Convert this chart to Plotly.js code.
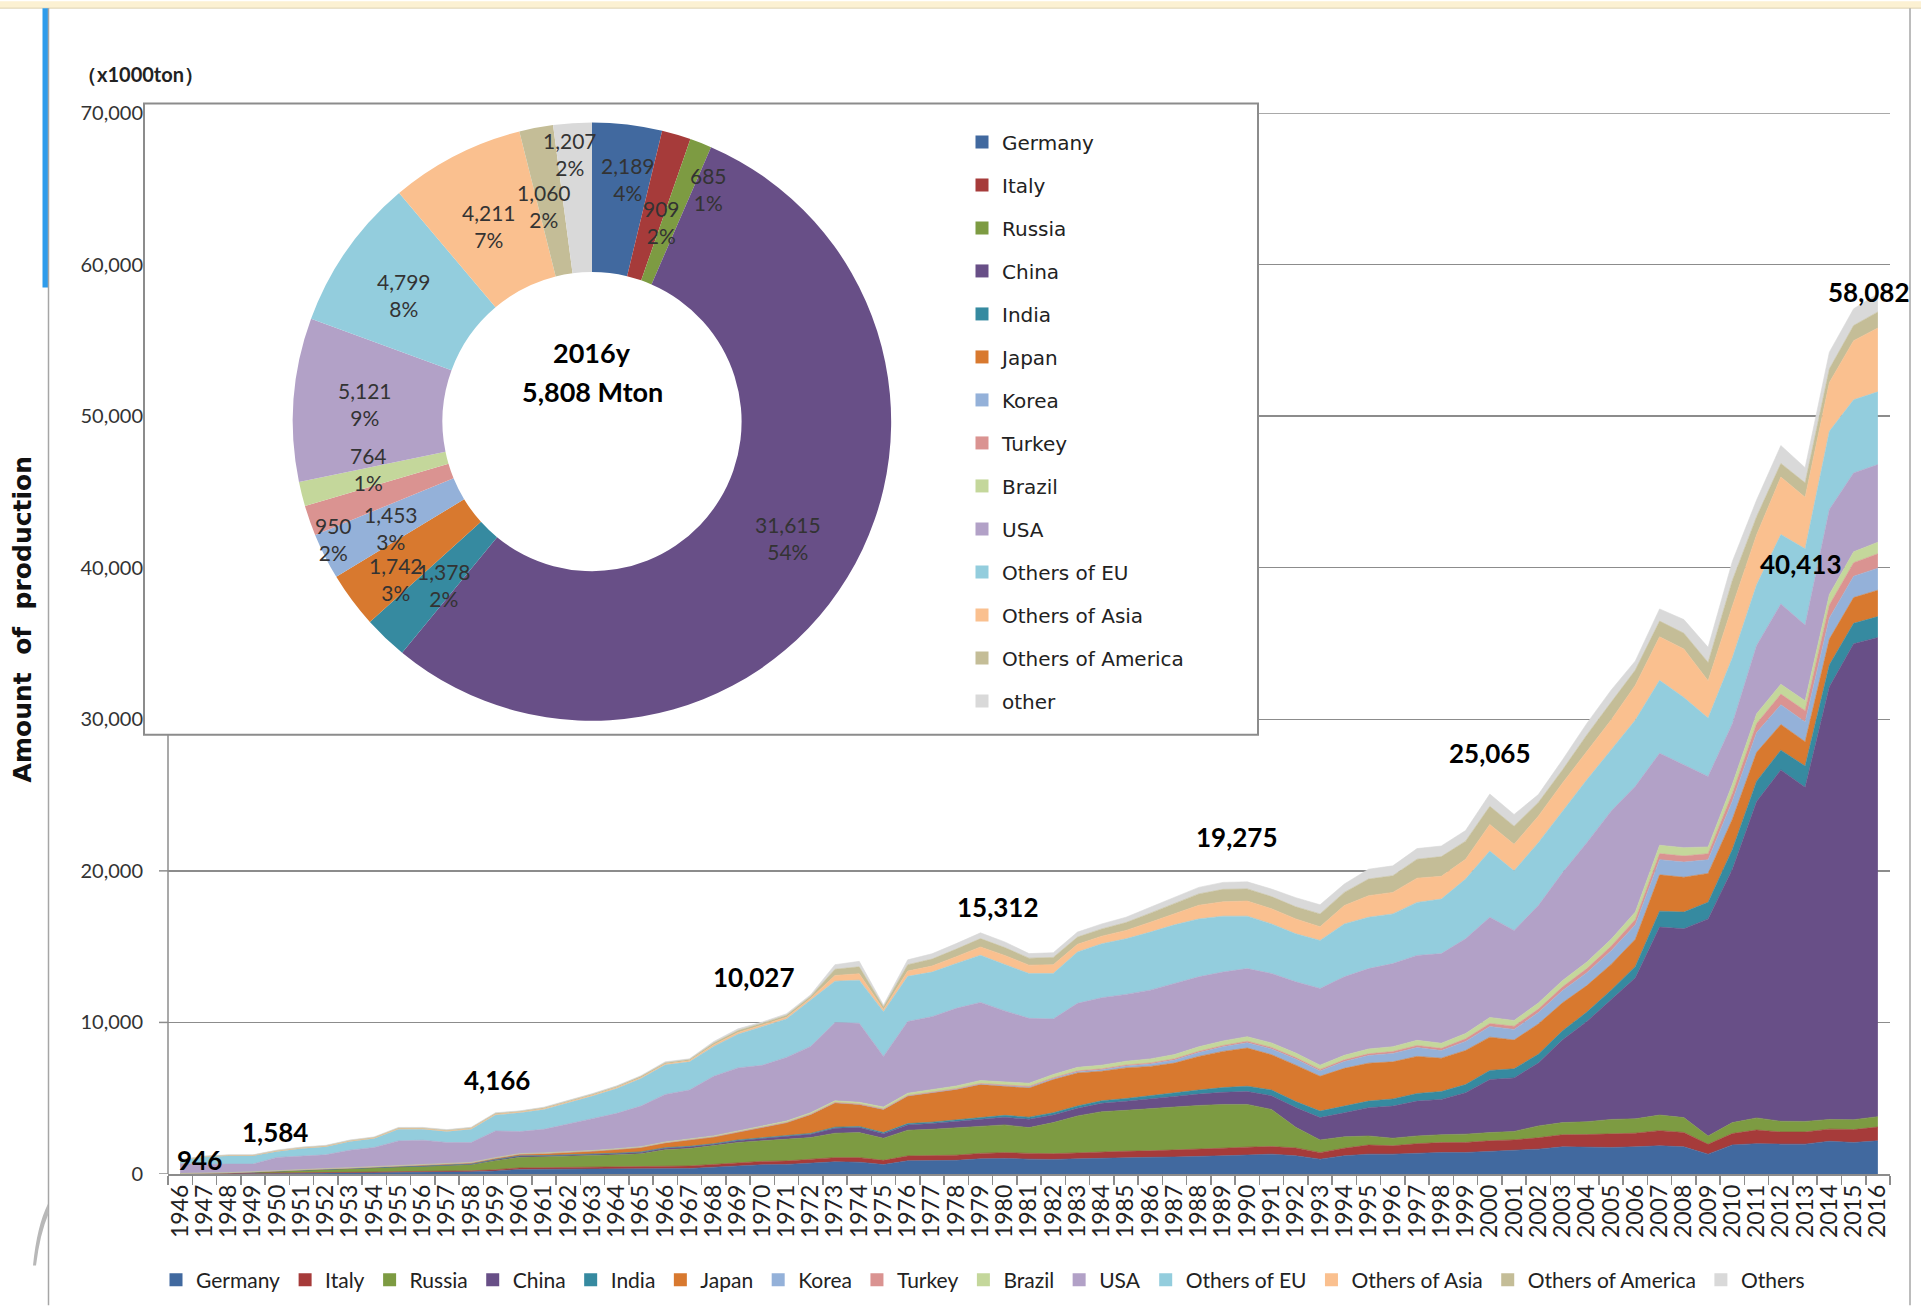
<!DOCTYPE html>
<html><head><meta charset="utf-8">
<script src="https://cdn.plot.ly/plotly-3.0.1.min.js"></script>
<style>html,body{margin:0;padding:0;background:#fff;}#chart{width:1921px;height:1312px;}</style>
</head><body><div id="chart"></div>
<script>
// ---------- DATA ----------
const years = ['1946','1947','1948','1949','1950','1951','1952','1953','1954','1955','1956','1957','1958','1959','1960',
 '1961','1962','1963','1964','1965','1966','1967','1968','1969','1970','1971','1972','1973','1974','1975','1976',
 '1977','1978','1979','1980','1981','1982','1983','1984','1985','1986','1987','1988','1989','1990','1991','1992',
 '1993','1994','1995','1996','1997','1998','1999','2000','2001','2002','2003','2004','2005','2006','2007','2008',
 '2009','2010','2011','2012','2013','2014','2015','2016'];

const seriesNames = ['Germany','Italy','Russia','China','India','Japan','Korea','Turkey','Brazil','USA',
 'Others of EU','Others of Asia','Others of America','Others'];
const pieLabels = ['Germany','Italy','Russia','China','India','Japan','Korea','Turkey','Brazil','USA',
 'Others of EU','Others of Asia','Others of America','other'];

const germany = [10,15,20,30,45,60,70,80,90,110,120,130,150,200,300,310,320,330,340,350,330,360,
 450,520,610,630,700,800,780,620,870,880,900,1000,1030,980,960,1000,1050,1080,1100,1120,1180,1200,1250,1310,
 1200,980,1200,1310,1310,1380,1420,1420,1490,1530,1640,1790,1750,1750,1790,1860,1790,1310,1920,2000,1970,1970,2160,2080,2189];
const italy = [5,8,10,12,15,20,25,30,35,45,50,55,60,80,100,105,110,115,125,135,150,170,
 180,200,220,230,250,280,300,280,320,330,340,360,380,380,380,390,410,420,430,450,480,500,520,500,
 520,430,500,600,550,620,650,660,700,720,750,800,850,880,900,1000,950,650,750,900,800,800,800,850,909];
const russia = [10,20,40,80,130,170,200,230,270,300,320,350,400,600,700,720,740,770,800,850,1120,1150,
 1230,1360,1360,1440,1450,1610,1650,1460,1700,1740,1820,1810,1830,1700,2050,2440,2650,2700,2800,2850,2860,2890,2820,2450,
 1360,840,750,600,500,510,520,550,540,560,780,800,850,970,950,1030,980,550,720,800,710,700,640,650,685];
const china = [0,0,0,2,5,8,10,12,15,20,25,30,40,60,80,60,60,70,80,90,100,110,
 100,120,150,180,220,330,330,300,350,380,420,450,500,550,500,500,550,600,650,700,750,800,850,900,
 1300,1470,1590,1860,2120,2300,2330,2730,3500,3530,4150,5460,6610,7880,9300,12400,12460,14320,16720,20870,23180,22050,28540,31400,31615];
const india = [2,2,3,4,5,6,7,9,11,13,15,16,18,20,22,23,25,28,30,33,35,38,
 40,45,50,55,60,70,75,75,85,90,100,110,130,140,150,160,170,180,200,230,270,310,350,380,
 400,430,430,440,470,500,520,540,600,600,580,600,620,650,750,1050,1100,1100,1300,1350,1300,1400,1450,1350,1378];
const japan = [5,5,10,15,20,25,30,35,40,45,55,65,70,90,110,140,170,200,250,300,330,420,
 450,520,670,855,1250,1610,1455,1525,1815,1940,1990,2170,1920,1930,2190,2180,1950,2020,1920,1970,2220,2390,2520,2330,
 2400,2300,2500,2500,2450,2450,2200,2250,2200,1900,2000,1850,1750,1700,1800,2400,2300,1900,2000,1900,1700,1600,1700,1700,1742];
const korea = [0,0,0,0,0,0,0,0,0,0,0,0,0,0,0,0,0,0,0,0,0,0,
 0,0,0,0,0,5,8,10,15,20,25,35,50,60,70,80,100,120,150,200,250,300,350,380,
 400,350,450,500,550,580,500,600,700,700,750,800,850,900,950,1000,1000,900,1200,1300,1300,1300,1400,1400,1453];
const turkey = [0,0,0,0,0,0,0,0,0,0,0,0,0,0,0,0,0,0,0,0,0,0,
 5,6,10,12,14,15,16,20,25,28,32,36,40,45,50,55,60,70,75,80,85,90,100,100,
 100,100,110,120,130,140,150,170,200,210,230,250,270,300,350,400,400,400,500,600,700,750,850,900,950];
const brazil = [5,6,7,9,12,13,15,18,20,21,24,27,28,30,32,33,36,39,40,43,45,50,
 60,70,80,90,100,110,120,130,150,160,180,200,220,200,220,230,240,250,270,280,300,300,300,300,
 300,280,300,320,320,340,340,350,400,380,400,420,430,450,500,550,550,450,600,650,650,650,700,720,764];
const usa = [650,580,565,503,861,899,909,1159,1267,1630,1621,1405,1311,1762,1454,1558,1817,2100,2335,2682,3140,3242,
 3935,4159,4020,4198,4376,5160,5216,3340,4730,4812,5123,5149,4660,4285,3660,4225,4450,4410,4535,4690,4615,4550,4490,4580,
 4700,5060,5180,5300,5480,5600,5910,6250,6610,5940,6430,7120,7880,8460,8290,6070,5470,4650,4000,4500,5300,5000,5600,5200,5121];
const othersEU = [200,480,546,546,393,481,525,568,590,765,721,721,874,1049,1246,1312,1421,1486,1640,1815,1950,1860,
 1970,2220,2550,2540,3060,2730,2840,2950,2980,2940,2960,3110,3060,2960,3000,3390,3560,3670,3830,3870,3820,3680,3460,3270,
 3170,3170,3490,3390,3280,3500,3600,3940,4370,3930,4150,4050,4150,4040,4370,4810,4440,3850,4350,4000,4580,5030,5160,4830,4799];
const othersAsia = [20,20,20,20,30,30,30,35,35,40,40,40,45,50,45,50,55,55,60,60,60,70,
 100,110,110,110,120,380,420,150,350,400,450,550,600,550,580,500,500,550,650,750,900,950,1000,1000,
 980,900,1210,1420,1420,1600,1500,1300,1750,1750,1750,1860,1860,1970,2300,2870,3200,2460,3400,3300,3790,3400,3220,3900,4211];
const othersAmerica = [20,25,25,25,35,35,40,40,45,50,50,55,55,60,45,65,70,75,80,85,85,90,
 120,130,120,130,130,410,460,170,420,460,500,550,520,460,480,480,480,520,600,650,750,820,800,800,
 800,850,870,1100,1100,1250,1300,1200,1200,1200,900,870,1100,1170,1000,1040,1040,1210,1700,1200,900,950,900,1000,1060];
const others = [19,20,20,20,33,30,30,30,30,35,35,35,35,40,32,35,35,40,40,45,55,40,
 100,115,77,100,100,300,360,120,320,350,360,380,372,300,310,330,330,350,390,410,430,460,465,500,
 600,600,550,650,650,700,700,700,805,770,520,660,760,800,600,800,900,1000,1253,1100,1180,1000,1100,1100,1207];

const totalLabelYears = ['1946','1950','1960','1970','1980','1990','2000','2010','2016'];
const totalLabels = ['946','1,584','4,166','10,027','15,312','19,275','25,065','40,413','58,082'];
const pieYear = '2016';
const pieCenterText = ['2016y','5,808 Mton'];

// ---------- STYLE ----------
const colors = ['#41699f','#a63b3a','#7d9b42','#684f87','#368aa0','#d8792f','#94b1d9','#da9391',
 '#c4d79b','#b2a1c7','#93cddd','#fac08f','#c4bd97','#d9d9d9'];
const FC = 'Lato, "Open Sans", sans-serif';
const FG = '"DejaVu Sans", Verdana, sans-serif';
// label placement (category-index units, value units)
const labelPos = [[0.78,918],[3.9,2754],[13.07,6229],[23.66,12983],[33.7,17640],[43.55,22230],[54.0,27800],[66.8,40260],[69.6,58160]];
// pie label centres in page pixels
const pieLabelPx = [[628,179],[661,222],[708,189],[788,540],[444,587],[396,581],[391,530],[333,541],[368,471],
 [365,405],[404,296],[489,226],[544,206],[570,154]];

const all = [germany,italy,russia,china,india,japan,korea,turkey,brazil,usa,othersEU,othersAsia,othersAmerica,others];

// pixel -> paper helpers (plot area: x 168..1890, y 112.5..1180)
const L=168, R=1890, T=112.5, B=1180;
const px = v => (v-L)/(R-L);
const py = v => (B-v)/(B-T);

const traces = [];
all.forEach((s,i)=>{
  traces.push({type:'scatter', x:years, y:s, name:seriesNames[i], stackgroup:'one', mode:'lines',
    line:{width:0.6, color:colors[i], shape:'linear'}, fillcolor:colors[i], showlegend:false, hoverinfo:'x+y+name'});
});
all.forEach((s,i)=>{
  traces.push({type:'scatter', x:[null], y:[null], mode:'markers', name:seriesNames[i],
    marker:{symbol:'square', size:13, color:colors[i]}, legend:'legend', showlegend:true, hoverinfo:'skip'});
});
all.forEach((s,i)=>{
  traces.push({type:'scatter', x:[null], y:[null], mode:'markers', name:pieLabels[i], legendgroup:'p'+i,
    marker:{symbol:'square', size:13, color:colors[i]}, legend:'legend2', showlegend:true, hoverinfo:'skip'});
});
const pi = years.indexOf(pieYear);
const pieValues = all.map(s=>s[pi]);
const pieTotal = pieValues.reduce((a,b)=>a+b,0);
traces.push({type:'pie', labels:pieLabels, values:pieValues, marker:{colors:colors, line:{width:0}},
  hole:0.5, sort:false, direction:'clockwise', rotation:0, showlegend:false,
  domain:{x:[px(288),px(896)], y:[py(724),py(122)]}, textinfo:'none', hoverinfo:'label+value+percent'});

const annotations = totalLabels.map((t,i)=>({xref:'x', yref:'y', x:labelPos[i][0], y:labelPos[i][1], text:t,
  xanchor:'center', yanchor:'middle', showarrow:false, font:{family:FC, size:26, color:'#000', weight:'bold'}}));
pieValues.forEach((v,i)=>{
  annotations.push({xref:'paper', yref:'paper', x:px(pieLabelPx[i][0]), y:py(pieLabelPx[i][1]),
    xanchor:'center', yanchor:'middle', showarrow:false,
    text: v.toLocaleString('en-US') + '<br>' + Math.round(v/pieTotal*100) + '%',
    font:{family:FC, size:21, color:'#333'}});
});
annotations.push({xref:'paper', yref:'paper', x:px(140), y:py(73), xanchor:'center', yanchor:'middle', text:'（x1000ton）', showarrow:false,
  font:{family:FC, size:20, color:'#222', weight:'bold'}});
annotations.push({xref:'paper', yref:'paper', x:px(22), y:py(622), xanchor:'center', yanchor:'middle', textangle:-90,
  text:'Amount\u00a0\u00a0of\u00a0\u00a0production', showarrow:false, font:{family:FG, size:25, color:'#111', weight:'bold'}});
annotations.push({xref:'paper', yref:'paper', x:px(592), y:py(353), xanchor:'center', yanchor:'middle', text:pieCenterText[0], showarrow:false,
  font:{family:FC, size:27, color:'#000', weight:'bold'}});
annotations.push({xref:'paper', yref:'paper', x:px(592), y:py(393), xanchor:'center', yanchor:'middle', text:pieCenterText[1], showarrow:false,
  font:{family:FC, size:27, color:'#000', weight:'bold'}});

const gray = '#8c8c8c';
const shapes = [
  {type:'rect', xref:'x', yref:'y', x0:-1.5, x1:44.45, y0:(B-738)*(10000/152.5), y1:72000, fillcolor:'#fff', line:{width:0}, layer:'between'},
  {type:'rect', xref:'paper', yref:'paper', x0:px(144), x1:px(1258), y0:py(738), y1:py(103), fillcolor:'rgba(0,0,0,0)', line:{color:gray, width:2}, layer:'above'},
  {type:'line', xref:'paper', yref:'y', x0:px(1258), x1:1, y0:70000, y1:70000, line:{color:gray, width:1.5}},
  {type:'line', xref:'paper', yref:'paper', x0:0, x1:0, y0:0, y1:py(738), line:{color:gray, width:1.5}},
  {type:'line', xref:'paper', yref:'y', x0:px(159), x1:0, y0:0, y1:0, line:{color:gray, width:1.5}},
  {type:'line', xref:'paper', yref:'y', x0:px(159), x1:0, y0:10000, y1:10000, line:{color:gray, width:1.5}},
  {type:'line', xref:'paper', yref:'y', x0:px(159), x1:0, y0:20000, y1:20000, line:{color:gray, width:1.5}},
  {type:'rect', xref:'paper', yref:'paper', x0:px(0), x1:px(1921), y0:py(7), y1:py(0), fillcolor:'#fcf1d3', line:{width:0}},
  {type:'line', xref:'paper', yref:'paper', x0:px(0), x1:px(1921), y0:py(7), y1:py(7), line:{color:'#ddd2b4', width:1}},
  {type:'rect', xref:'paper', yref:'paper', x0:px(42.5), x1:px(48.5), y0:py(288), y1:py(7), fillcolor:'#2f9ceb', line:{width:0}},
  {type:'line', xref:'paper', yref:'paper', x0:px(48.5), x1:px(48.5), y0:py(1312), y1:py(7), line:{color:'#a6a6a6', width:1.5}},
  {type:'line', xref:'paper', yref:'paper', x0:px(1910), x1:px(1910), y0:py(1312), y1:py(7), line:{color:'#a6a6a6', width:1.5}},
  {type:'path', xref:'paper', yref:'paper', fillcolor:'#b8b8b8', line:{width:0},
   path:`M ${px(48)} ${py(1210)} Q ${px(37)} ${py(1232)} ${px(33)} ${py(1272)} L ${px(36)} ${py(1272)} Q ${px(40)} ${py(1240)} ${px(48.5)} ${py(1220)} Z`}
];

const layout = {
  width:1921, height:1312, margin:{l:L, r:1921-R, t:T, b:1312-B},
  paper_bgcolor:'#fff', plot_bgcolor:'rgba(0,0,0,0)', hovermode:false,
  xaxis:{type:'category', range:[-0.5,70.5], tickmode:'linear', tick0:0, dtick:1, tickson:'boundaries',
    ticks:'outside', ticklen:9, tickwidth:1.5, tickcolor:gray, showline:true, linecolor:gray, linewidth:1.5,
    showgrid:false, zeroline:false, tickangle:-90, tickfont:{family:FC, size:23, color:'#222'}, fixedrange:true},
  yaxis:{range:[0,70000], tickmode:'linear', tick0:0, dtick:10000, tickformat:',', showgrid:true,
    gridcolor:gray, gridwidth:1.5, zeroline:false, showline:false, ticks:'', ticklabelstandoff:24,
    tickfont:{family:FC, size:20, color:'#333'}, fixedrange:true},
  legend:{orientation:'h', traceorder:'normal', x:px(156), xanchor:'left', y:py(1266), yanchor:'top', font:{family:FC, size:21, color:'#222'},
    bgcolor:'rgba(0,0,0,0)', itemclick:false, itemdoubleclick:false},
  legend2:{orientation:'v', traceorder:'grouped', x:px(962), xanchor:'left', y:py(122), yanchor:'top', font:{family:FG, size:20, color:'#222'},
    bgcolor:'rgba(0,0,0,0)', tracegroupgap:14, itemclick:false, itemdoubleclick:false},
  annotations:annotations, shapes:shapes
};
Plotly.newPlot('chart', traces, layout, {staticPlot:true, displayModeBar:false});
</script></body></html>
